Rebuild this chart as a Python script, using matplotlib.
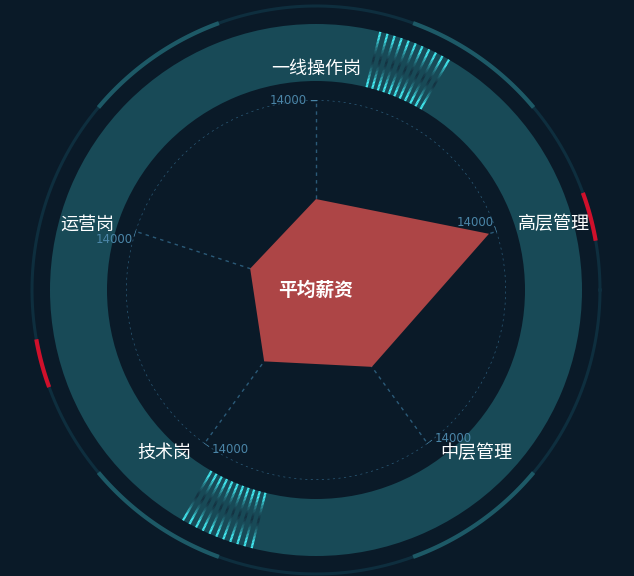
import numpy as np
import matplotlib.pyplot as plt
from matplotlib.collections import LineCollection
from matplotlib.colors import to_rgb
from matplotlib.transforms import offset_copy

plt.rcParams['font.family'] = ['Noto Sans CJK SC', 'DejaVu Sans']

# data
categories = ['一线操作岗', '高层管理', '中层管理', '技术岗', '运营岗']
salary = [6700, 13400, 7000, 6500, 5100]
max_value = 14000
series_name = '平均薪资'

# decoration (degrees, counter-clockwise from east)
glow_arcs = [(40, 70), (110, 140), (220, 250), (290, 320)]
red_arcs = [(10, 20), (190, 200)]
stripe_bands = [(60, 76), (240, 256)]

bg = '#0a1a28'
W, H = 634, 576
cx, cy = 316, 290          # centre, pixels from top-left
R_RADAR = 190
R_DECOR = 300


def polar_axes(radius, z):
    ax = fig.add_axes([(cx - radius) / W, (H - cy - radius) / H,
                       2 * radius / W, 2 * radius / H],
                      projection='polar', zorder=z)
    ax.set_facecolor('none')
    ax.axis('off')
    return ax


fig = plt.figure(figsize=(W / 100, H / 100), dpi=100, facecolor=bg)

# ---- decoration rings
dec = polar_axes(R_DECOR, 1)
dec.set_ylim(0, R_DECOR)
r_in, r_out = 209, 266
dec.bar(0, r_out - r_in, width=2 * np.pi, bottom=r_in, color='#184a57', linewidth=0)

full = np.linspace(0, 2 * np.pi, 500)
dec.plot(full, np.full_like(full, 284), color='#0e2e3e', lw=2.2)
for a0, a1 in glow_arcs:
    th = np.radians(np.linspace(a0, a1, 80))
    dec.plot(th, np.full_like(th, 284), color='#1d5966', lw=3, solid_capstyle='butt')
for a0, a1 in red_arcs:
    th = np.radians(np.linspace(a0, a1, 40))
    dec.plot(th, np.full_like(th, 284), color='#d0102b', lw=3, solid_capstyle='butt')

cyan = np.array(to_rgb('#44eef5'))
dark = np.array(to_rgb('#14303f'))
for a0, a1 in stripe_bands:
    for a in np.linspace(a0, a1, 11):
        t = np.linspace(0, 1, 41)
        r = r_in + (r_out - r_in) * t
        pts = np.column_stack([np.full_like(r, np.radians(a)), r])
        segs = np.stack([pts[:-1], pts[1:]], axis=1)
        k = np.abs((t[:-1] + t[1:]) / 2 - 0.5) * 2
        k = np.clip(k * 1.3, 0, 1) ** 1.5
        cols = dark[None, :] * (1 - k[:, None]) + cyan[None, :] * k[:, None]
        dec.add_collection(LineCollection(segs, colors=cols, linewidths=1.6,
                                          capstyle='butt'))

# ---- radar
ax = polar_axes(R_RADAR, 2)
ax.set_theta_zero_location('N')
ax.set_theta_direction(-1)
ax.set_ylim(0, max_value)

n = len(categories)
angles = np.arange(n) * 2 * np.pi / n
line_col = '#2b5a78'

ax.plot(full, np.full_like(full, max_value), color=line_col, lw=1, ls=(0, (1.5, 2.5)))
for a in angles:
    ax.plot([a, a], [0, max_value], color=line_col, lw=1, ls=(0, (2.5, 3)))
    # small tick at axis end
    d = 5 / R_RADAR
    ax.plot([a, a - d], [max_value, max_value * np.hypot(1, d)], color='#4b86a8', lw=1)

ax.fill(np.append(angles, angles[0]), salary + salary[:1], color='#ad4546',
        linewidth=0, zorder=3)

for a, name in zip(angles, categories):
    sx, sy = np.sin(a), np.cos(a)          # screen direction (x right, y up)
    # value label beside the axis end
    px, py = -sy, sx                        # counter-clockwise perpendicular
    tr = offset_copy(ax.transData, fig=fig, x=9 * px, y=9 * py, units='dots')
    ax.text(a, max_value, f'{max_value}', transform=tr, color='#4b86a8',
            fontsize=8.5, family='DejaVu Sans',
            ha='right' if px < 0 else 'left', va='center', zorder=4)
    # category name
    ha = 'center' if abs(sx) < 0.01 else ('left' if sx > 0 else 'right')
    va = 'center' if abs(sy) < 0.5 else 'bottom'
    ax.text(a, max_value * 212 / R_RADAR, name, color='white', fontsize=13,
            ha=ha, va=va, zorder=4)

ax.text(0, 0, series_name, color='white', fontsize=13.5, fontweight='bold',
        ha='center', va='center', zorder=5)

fig.savefig('out.png', dpi=100, facecolor=bg)
